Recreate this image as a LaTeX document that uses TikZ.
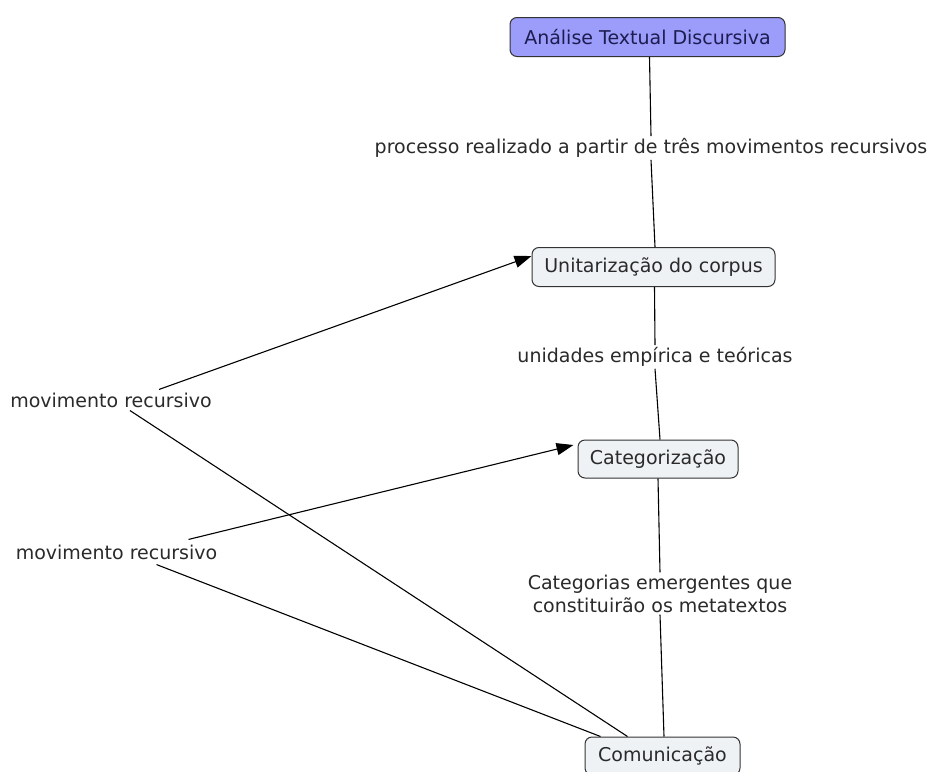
\documentclass[tikz,border=0pt]{standalone}
\usepackage{fontspec}
\setmainfont{DejaVu Sans}
\usetikzlibrary{arrows.meta,calc}
\definecolor{topfill}{HTML}{9C9CFA}
\definecolor{topink}{HTML}{1C1C50}
\definecolor{boxfill}{HTML}{EEF2F5}
\definecolor{txt}{HTML}{2A2A2A}
\begin{document}
\begin{tikzpicture}[x=1pt,y=-1pt,
  concept/.style={draw=black!80,line width=1pt,rounded corners=7pt,fill=boxfill,
    text=txt,font=\fontsize{19}{23}\selectfont,inner sep=0pt,minimum height=39pt},
  linkph/.style={text=txt,font=\fontsize{19}{23}\selectfont,inner sep=2pt,align=center},
  conn/.style={draw=black,line width=1.1pt},
  arr/.style={conn,-{Triangle[length=17pt,width=12pt]}}]
\useasboundingbox[fill=white] (0,0) rectangle (931,771);
\node[concept,fill=topfill,text=topink,minimum width=275pt] (atd) at (647.5,37) {Análise Textual Discursiva};
\node[concept,minimum width=243pt] (unit) at (653.5,267) {Unitarização do corpus};
\node[concept,minimum width=160pt,minimum height=38pt] (cat) at (658,459) {Categorização};
\node[concept,minimum width=155pt,minimum height=38pt] (com) at (662.5,756) {Comunicação};
\node[linkph] (l1) at (651,148) {processo realizado a partir de três movimentos recursivos};
\node[linkph] (l2) at (655,357) {unidades empírica e teóricas};
\node[linkph] (l3) at (660,593.5) {Categorias emergentes que\\constituirão os metatextos};
\node[linkph] (m1) at (111,400) {movimento recursivo};
\node[linkph] (m2) at (116.5,552) {movimento recursivo};
% vertical chain
\draw[conn] ([xshift=2pt]atd.south) -- (l1.north);
\draw[conn] (l1.south) -- ([xshift=1.5pt]unit.north);
\draw[conn] ([xshift=1pt]unit.south) -- (l2.north);
\draw[conn] (l2.south) -- ([xshift=2pt]cat.north);
\draw[conn] (cat.south) -- (l3.north);
\draw[conn] (l3.south) -- ([xshift=1.5pt]com.north);
% recursive movements
\draw[arr] ([xshift=48pt,yshift=1pt]m1.north) -- ([yshift=11pt]unit.west);
\draw[conn] ([xshift=19pt,yshift=-1pt]m1.south) -- ([xshift=-35pt]com.north);
\draw[arr] ([xshift=72pt,yshift=3pt]m2.north) -- ([xshift=-4pt,yshift=14pt]cat.west);
\draw[conn] ([xshift=40pt,yshift=-3pt]m2.south) -- ([xshift=-62pt]com.north);
\end{tikzpicture}
\end{document}
